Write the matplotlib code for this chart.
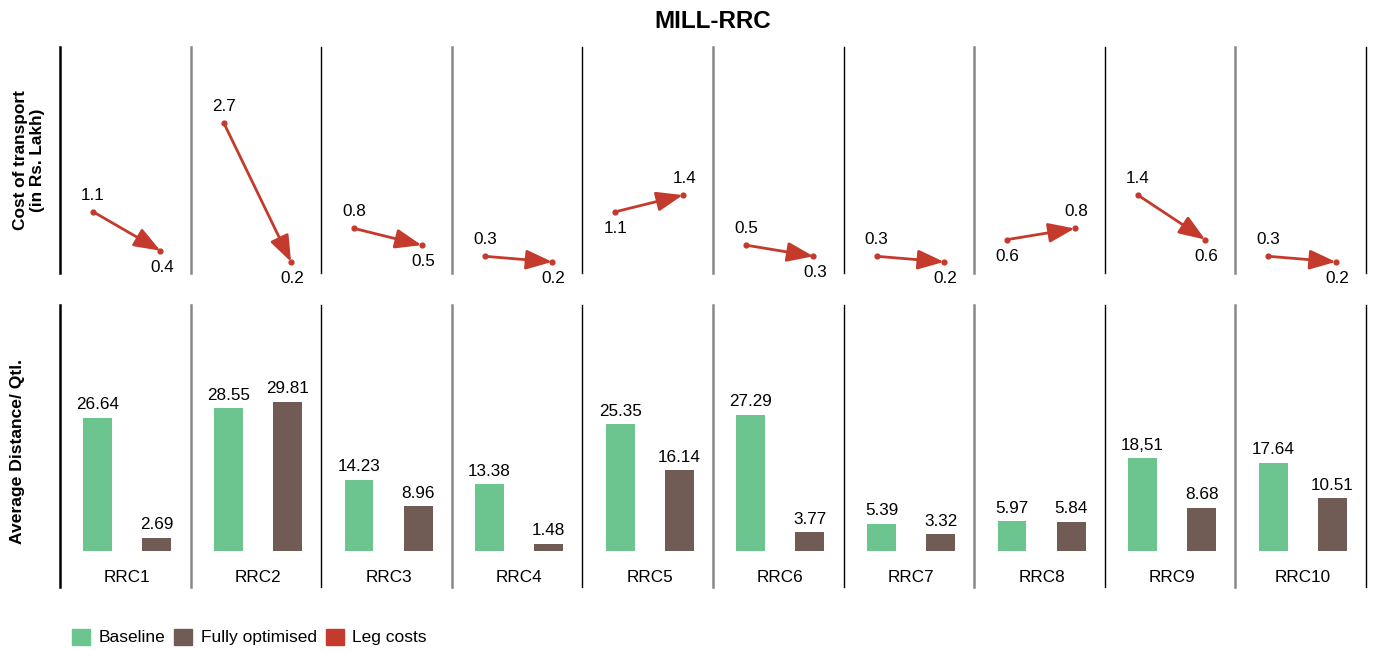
import numpy as np
import matplotlib as mpl
import matplotlib.pyplot as plt

mpl.use("agg")
plt.rcParams['font.family'] = ['Liberation Sans', 'DejaVu Sans']

# data
rrcs = ["RRC1", "RRC2", "RRC3", "RRC4", "RRC5", "RRC6", "RRC7", "RRC8", "RRC9", "RRC10"]
cost_before = [1.1, 2.7, 0.8, 0.3, 1.1, 0.5, 0.3, 0.6, 1.4, 0.3]
cost_after = [0.4, 0.2, 0.5, 0.2, 1.4, 0.3, 0.2, 0.8, 0.6, 0.2]
baseline = [26.64, 28.55, 14.23, 13.38, 25.35, 27.29, 5.39, 5.97, 18.51, 17.64]
optimised = [2.69, 29.81, 8.96, 1.48, 16.14, 3.77, 3.32, 5.84, 8.68, 10.51]
baseline_labels = ["26.64", "28.55", "14.23", "13.38", "25.35", "27.29", "5.39", "5.97", "18,51", "17.64"]
optimised_labels = ["2.69", "29.81", "8.96", "1.48", "16.14", "3.77", "3.32", "5.84", "8.68", "10.51"]

green = "#6cc48f"
brown = "#715c55"
red = "#c43a2c"
fs = 12.3

W, H = 1373, 651
fig = plt.figure(figsize=(W / 100, H / 100), dpi=100)

x0 = 60
pw = (1366 - 60) / 10.0

for i in range(10):
    left = (x0 + i * pw) / W
    sep_col = "black" if i % 2 == 0 else "#888888"
    sep_lw = 1.0 if i % 2 == 0 else 1.8
    if i == 0:
        sep_lw = 1.8

    # top row: cost arrows
    ax = fig.add_axes([left, 1 - 273 / H, pw / W, (273 - 47) / H])
    ax.set_xlim(-0.64, 1.57)
    ax.set_ylim(0, 4.06)
    a, b = cost_before[i], cost_after[i]
    xa, xb = -0.08, 1.06
    ax.annotate("", xy=(xb, b), xytext=(xa, a),
                arrowprops=dict(arrowstyle="-|>,head_length=0.8,head_width=0.3",
                                color=red, lw=2, shrinkA=0, shrinkB=0,
                                mutation_scale=20))
    ax.scatter([xa, xb], [a, b], s=12, color=red, zorder=3)
    off_a = 12 if a >= b else -12
    off_b = 12 if b > a else -12
    ax.annotate(f"{a}", (xa, a), xytext=(0, off_a), textcoords="offset points",
                ha="center", va="center", fontsize=fs)
    ax.annotate(f"{b}", (xb, b), xytext=(1, off_b), textcoords="offset points",
                ha="center", va="center", fontsize=fs)

    # bottom row: distance bars
    bx = fig.add_axes([left, 1 - 587 / H, pw / W, (587 - 305) / H])
    bx.set_xlim(-0.64, 1.57)
    bx.set_ylim(-7.2, 49.2)
    bx.bar([0, 1], [baseline[i], optimised[i]], width=0.49, color=[green, brown])
    bx.annotate(baseline_labels[i], (0, baseline[i]), xytext=(0, 4), textcoords="offset points",
                ha="center", va="bottom", fontsize=fs)
    bx.annotate(optimised_labels[i], (1, optimised[i]), xytext=(0, 4), textcoords="offset points",
                ha="center", va="bottom", fontsize=fs)
    bx.text(0.5, -5.4, rrcs[i], ha="center", va="center", fontsize=fs)

    for a_ in (ax, bx):
        a_.set_xticks([])
        a_.set_yticks([])
        for s in ("top", "bottom", "right"):
            a_.spines[s].set_visible(False)
        a_.spines["left"].set_color(sep_col)
        a_.spines["left"].set_linewidth(sep_lw)
        a_.patch.set_alpha(0)
        if i == 9:
            a_.spines["right"].set_visible(True)
            a_.spines["right"].set_color("black")
            a_.spines["right"].set_linewidth(1.0)

fig.text(713 / W, 1 - 22 / H, "MILL-RRC", ha="center", va="center", fontsize=17.5, fontweight="bold")
fig.text(29 / W, 1 - 160 / H, "Cost of transport\n(in Rs. Lakh)", ha="center", va="center",
         rotation=90, fontsize=12.4, fontweight="bold", linespacing=1.1)
fig.text(18 / W, 1 - 452 / H, "Average Distance/ Qtl.", ha="center", va="center",
         rotation=90, fontsize=12.6, fontweight="bold")

# legend
handles = [mpl.patches.Patch(color=green, label="Baseline"),
           mpl.patches.Patch(color=brown, label="Fully optimised"),
           mpl.patches.Patch(color=red, label="Leg costs")]
fig.legend(handles=handles, loc="center left", bbox_to_anchor=(56 / W, 1 - 637 / H), ncol=3,
           frameon=False, fontsize=12.5, handlelength=1.05, handleheight=1.05,
           handletextpad=0.5, columnspacing=0.5)

plt.savefig("out.png", dpi=100)
